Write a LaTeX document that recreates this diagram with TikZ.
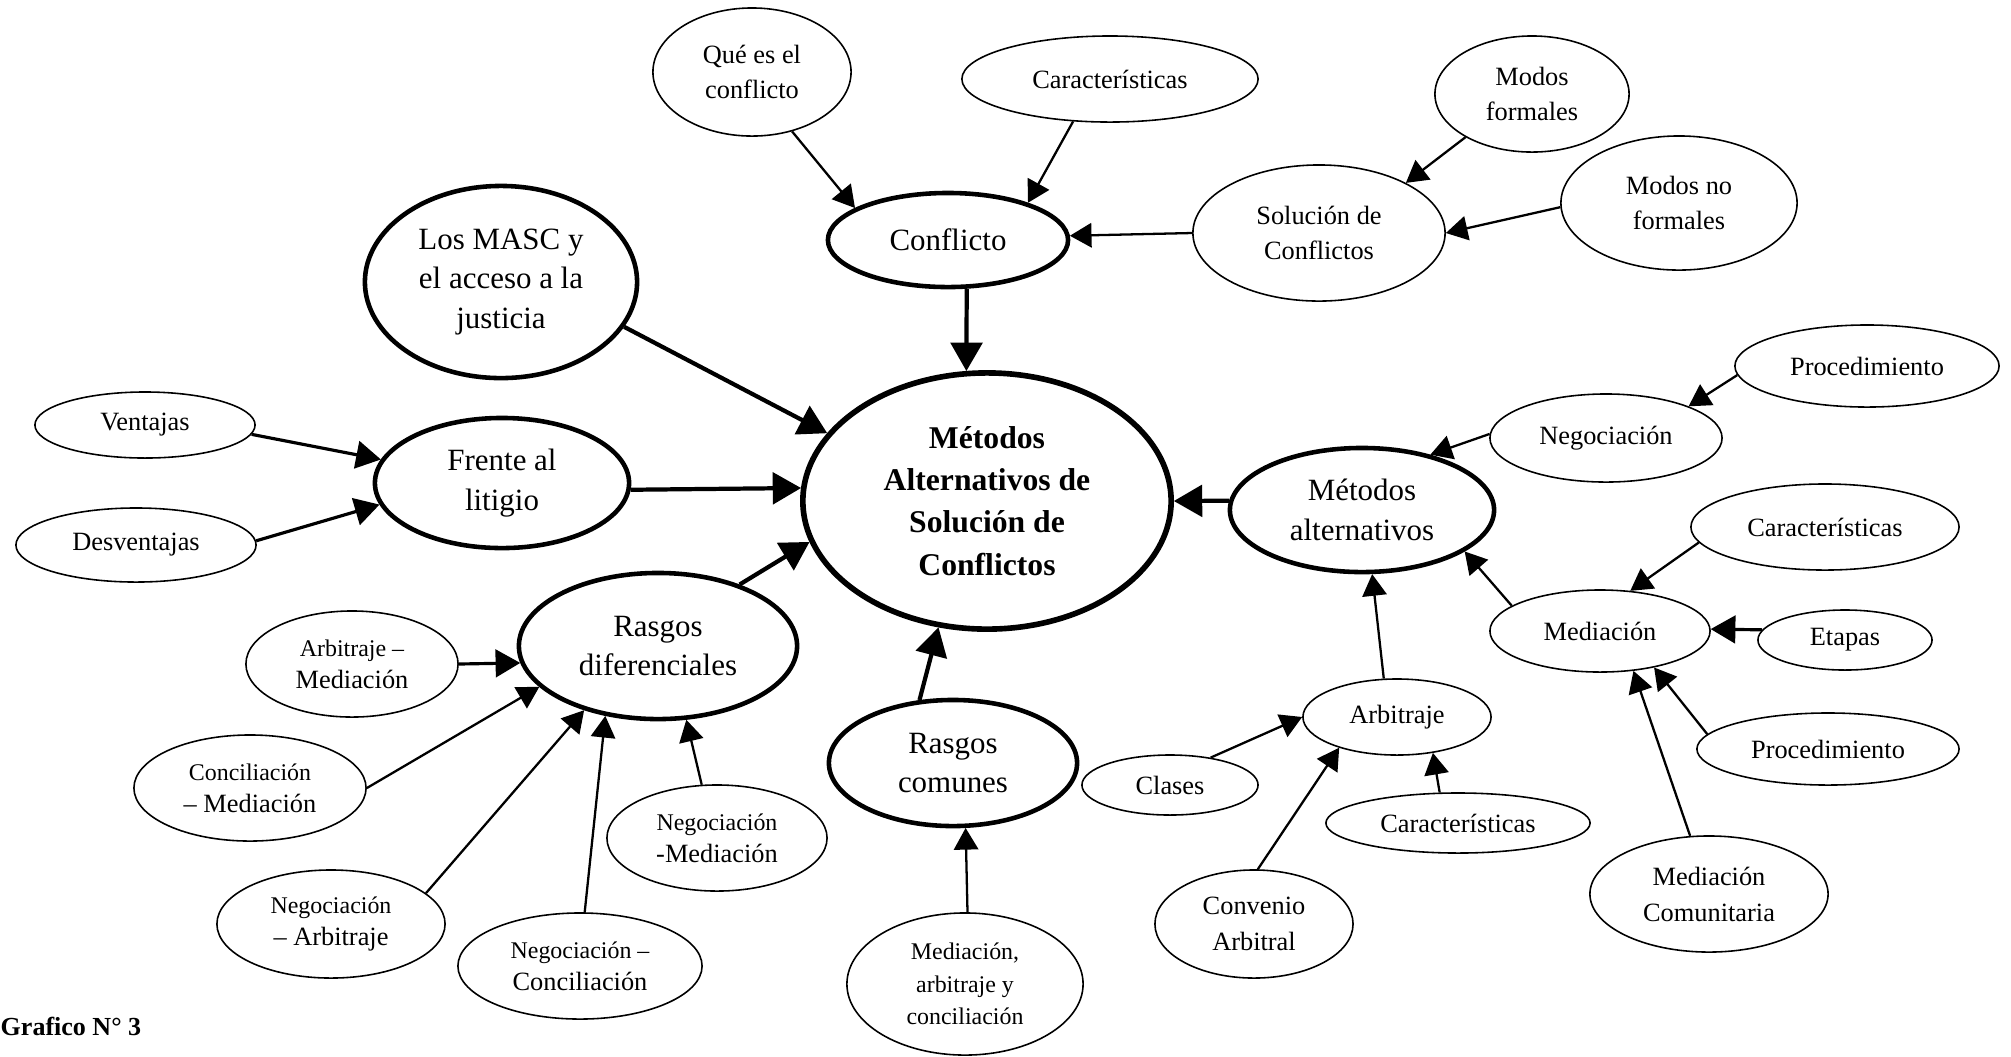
\documentclass[tikz,border=0pt]{standalone}
\usepackage{fontspec}
\setmainfont{Liberation Serif}
\usetikzlibrary{shapes, arrows, positioning}

\newcommand{\tn}[1]{{\fontsize{6.8}{9.2}\selectfont #1}}

\begin{document}
\begin{tikzpicture}[x=0.01cm, y=-0.01cm, ->, >=triangle 60,
  rxy/.style 2 args={minimum width=#1*0.02cm, minimum height=#2*0.02cm},
  core/.style={ellipse, draw, line width=1.6pt, inner sep=0pt, align=center,
    font=\bfseries\fontsize{9}{12}\selectfont},
  main/.style={ellipse, draw, line width=1.3pt, inner sep=0pt, align=center,
    font=\fontsize{8.8}{11.3}\selectfont},
  leaf/.style={ellipse, draw, line width=0.45pt, inner sep=0pt, align=center,
    font=\fontsize{7.5}{10.2}\selectfont},
  tinyleaf/.style={leaf, font=\fontsize{7.5}{9.2}\selectfont},
  bigarrow/.style={line width=1.2pt},
  midarrow/.style={line width=0.9pt},
  thinarrow/.style={line width=0.65pt}]
  \useasboundingbox (0,0) rectangle (2011,1056);

  % centro y ramas principales
  \node[core, rxy={184}{128}]  (mt)    at (987,501)  {M\'etodos\\Alternativos de\\Soluci\'on de\\Conflictos};
  \node[main, rxy={120}{47}]   (conf)  at (948,240)  {Conflicto};
  \node[main, rxy={136}{96}]   (masc)  at (501,282)  {Los MASC y\\el acceso a la\\justicia};
  \node[main, rxy={127}{65}]   (fr)    at (502,483)  {Frente al\\litigio};
  \node[main, rxy={139}{73}]   (rdif)  at (658,646)  {Rasgos\\diferenciales};
  \node[main, rxy={124}{63}]   (rcom)  at (953,763)  {Rasgos\\comunes};
  \node[main, rxy={132}{62}]   (malt)  at (1362,510) {M\'etodos\\alternativos};

  % conflicto
  \node[leaf, rxy={99}{64}]    (que)   at (752,72)   {Qu\'e es el\\conflicto};
  \node[leaf, rxy={148}{43}]   (carc)  at (1110,79)  {Caracter\'isticas};
  \node[leaf, rxy={126}{68}]   (sol)   at (1319,233) {Soluci\'on de\\Conflictos};
  \node[leaf, rxy={97}{58}]    (mf)    at (1532,94)  {Modos\\formales};
  \node[leaf, rxy={118}{67}]   (mnf)   at (1679,203) {Modos no\\formales};

  % litigio
  \node[leaf, rxy={110}{33}]   (vent)  at (145,425)  {Ventajas};
  \node[leaf, rxy={120}{37}]   (desv)  at (136,545)  {Desventajas};

  % rasgos
  \node[tinyleaf, rxy={106}{53}] (am)  at (352,664)  {\tn{Arbitraje --}\\Mediaci\'on};
  \node[tinyleaf, rxy={116}{53}] (cm)  at (250,788)  {\tn{Conciliaci\'on}\\-- Mediaci\'on};
  \node[tinyleaf, rxy={114}{54}] (na)  at (331,924)  {\tn{Negociaci\'on}\\-- Arbitraje};
  \node[tinyleaf, rxy={122}{53}] (nc)  at (580,966)  {\tn{Negociaci\'on --}\\Conciliaci\'on};
  \node[tinyleaf, rxy={110}{53}] (nm)  at (717,838)  {\tn{Negociaci\'on}\\-Mediaci\'on};
  \node[leaf, rxy={118}{71}, font=\fontsize{6.8}{9.2}\selectfont]
                               (mac)   at (965,984)  {Mediaci\'on,\\arbitraje y\\conciliaci\'on};

  % metodos alternativos
  \node[leaf, rxy={116}{44}]   (neg)   at (1606,438) {Negociaci\'on};
  \node[leaf, rxy={132}{41}]   (proca) at (1867,366) {Procedimiento};
  \node[leaf, rxy={110}{41}]   (med)   at (1600,631) {Mediaci\'on};
  \node[leaf, rxy={134}{43}]   (carm)  at (1825,527) {Caracter\'isticas};
  \node[leaf, rxy={87}{30}]    (etp)   at (1845,640) {Etapas};
  \node[leaf, rxy={131}{36}]   (procb) at (1828,749) {Procedimiento};
  \node[leaf, rxy={119}{58}]   (mcom)  at (1709,894) {Mediaci\'on\\Comunitaria};
  \node[leaf, rxy={94}{38}]    (arb)   at (1397,717) {Arbitraje};
  \node[leaf, rxy={88}{30}]    (cls)   at (1170,785) {Clases};
  \node[leaf, rxy={132}{30}]   (cara)  at (1458,823) {Caracter\'isticas};
  \node[leaf, rxy={99}{54}]    (conv)  at (1254,924) {Convenio\\Arbitral};

  \node[anchor=west, inner sep=0pt, font=\bfseries\fontsize{7.4}{9}\selectfont]
                               (graf)  at (0,1026)   {Grafico N\textdegree{} 3};

  \path[->]
        (conf.-69)  edge [bigarrow]  (mt.99)
        (masc.-20)  edge [bigarrow]  (mt.157)
        (fr.-3)     edge [bigarrow]  (mt.176)
        (rdif.37)   edge [bigarrow]  (mt.193)
        (rcom.118)  edge [bigarrow]  (mt.249)
        (malt.176)  edge [bigarrow]  (mt.0)
        (que.-56)   edge [thinarrow] (conf.161)
        (carc.229)  edge [thinarrow] (conf.25)
        (sol.180)   edge [thinarrow] (conf.2)
        (mf.213)    edge [thinarrow] (sol.30)
        (mnf.182)   edge [thinarrow] (sol.0)
        (vent.-5)   edge [midarrow]  (fr.169)
        (desv.2)    edge [midarrow]  (fr.190)
        (am.0)      edge [midarrow]  (rdif.187)
        (cm.0)      edge [thinarrow] (rdif.199)
        (na.18)     edge [thinarrow] (rdif.221)
        (nc.85)     edge [thinarrow] (rdif.233)
        (nm.106)    edge [thinarrow] (rdif.291)
        (mac.88)    edge [thinarrow] (rcom.281)
        (neg.178)   edge [thinarrow] (malt.39)
        (proca.184) edge [thinarrow] (neg.21)
        (arb.109)   edge [thinarrow] (malt.279)
        (med.164)   edge [thinarrow] (malt.338)
        (carm.187)  edge [thinarrow] (med.53)
        (etp.173)   edge [midarrow]  (med.1)
        (procb.173) edge [thinarrow] (med.326)
        (mcom.108)  edge [thinarrow] (med.310)
        (cls.34)    edge [thinarrow] (arb.180)
        (cara.121)  edge [thinarrow] (arb.315)
        (conv.86)   edge [thinarrow] (arb.208)
              ;
\end{tikzpicture}
\end{document}
